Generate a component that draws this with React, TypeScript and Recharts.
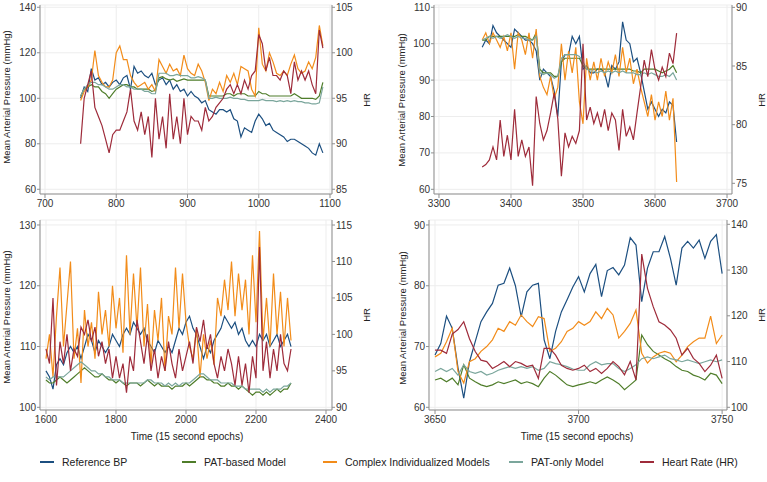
import { LineChart, Line, XAxis, YAxis, CartesianGrid } from 'recharts'

// series colours (Stata-ish palette)
const C_REF = '#1c4f80'
const C_PATB = '#4f7d2a'
const C_CPLX = '#f28c1a'
const C_PATO = '#7ba69c'
const C_HR = '#9e2b3a'
const FONT = '"Liberation Sans", Arial, sans-serif'

// ---- panel 1 (top left) ----
const p1Time = [750, 755, 760, 765, 770, 775, 780, 785, 790, 795, 800, 805, 810, 815, 820, 825, 830, 835, 840, 845, 850, 855, 860, 865, 870, 875, 880, 885, 890, 895, 900, 905, 910, 915, 920, 925, 930, 935, 940, 945, 950, 955, 960, 965, 970, 975, 980, 985, 990, 995, 1000, 1005, 1010, 1015, 1020, 1025, 1030, 1035, 1040, 1045, 1050, 1055, 1060, 1065, 1070, 1075, 1080, 1085, 1090]
const p1Ref = [100, 105, 103, 113, 108, 109, 106, 107, 105, 107, 108, 106, 109, 110, 104, 114, 111, 112, 110, 109, 111, 106, 108, 109, 106, 108, 104, 106, 103, 104, 101, 103, 101, 100, 98, 99, 95, 94, 93, 95, 95, 94, 95, 91, 90, 83, 87, 86, 85, 90, 93, 91, 88, 89, 86, 85, 84, 83, 81, 82, 82, 81, 80, 79, 78, 76, 75, 80, 76]
const p1PatBased = [101, 104, 105, 106, 105, 105, 103, 102, 100, 102, 104, 105, 106, 106, 105, 105, 104, 104, 104, 104, 103, 103.5, 109, 109.5, 108.5, 108, 108.5, 107.5, 108, 108.5, 108, 108, 108, 108, 108, 108, 101, 101, 101, 101, 101, 102, 102, 101, 102, 102, 102, 101, 101, 101, 103, 102, 102, 101, 101, 101, 101, 101, 101, 101, 102, 101, 100, 100, 100, 100, 99.5, 101, 107]
const p1Complex = [99, 103, 105, 108, 121, 110, 107, 105, 105, 108, 120, 123, 117, 117, 110, 107, 105, 106, 107, 104, 106, 103, 117, 114, 111, 115, 112, 113, 110, 119, 113, 111, 110, 115, 112, 107, 99, 104, 102, 107, 103, 110, 107, 111, 106, 114, 113, 112, 104, 101, 131, 115, 112, 120, 116, 111, 110, 112, 110, 115, 119, 113, 111, 112, 116, 113, 118, 132, 123]
const p1PatOnly = [101, 104, 106, 107, 107, 106, 106, 105, 104, 104, 105, 106, 106, 105, 105, 104, 104, 104, 103, 103, 102, 102, 111, 111, 111, 110, 110, 110.5, 110, 110, 110, 109, 109, 109.5, 109, 108, 100, 100, 100.5, 100, 100, 100, 100.5, 100, 100, 99.5, 99.5, 99, 99, 99, 99, 99.5, 99, 99, 99, 98.5, 99, 98.5, 99, 98.5, 99, 98.5, 98.5, 98, 98, 97.5, 97.5, 98, 105]
const p1Hr = [90, 95, 96.5, 98, 94, 93, 92, 90.5, 89, 91, 91.5, 91.5, 92.5, 93.5, 96, 92.5, 91.5, 93.5, 91, 93, 88.5, 95, 90.5, 93, 89.5, 95.5, 90.5, 93, 90, 95, 91, 93, 92.5, 92.5, 91.5, 94, 92.5, 93, 94, 94.5, 95, 96, 96.5, 95.5, 96.5, 95.5, 97, 96, 97.5, 98, 102, 101, 98, 99.5, 97.5, 97.5, 97, 98, 97.5, 95.5, 99, 97, 98, 97, 98, 96.5, 95.5, 102.5, 100.5]

// ---- panel 2 (top right) ----
const p2Time = [3360, 3365, 3370, 3375, 3380, 3385, 3390, 3395, 3400, 3405, 3410, 3415, 3420, 3425, 3430, 3435, 3440, 3445, 3450, 3455, 3460, 3465, 3470, 3475, 3480, 3485, 3490, 3495, 3500, 3505, 3510, 3515, 3520, 3525, 3530, 3535, 3540, 3545, 3550, 3555, 3560, 3565, 3570, 3575, 3580, 3585, 3590, 3595, 3600, 3605, 3610, 3615, 3620, 3625, 3630]
const p2Ref = [99, 101, 100, 105, 103, 102, 101, 100, 99, 104, 103, 102, 101, 101, 100, 98, 90, 93, 92, 91, 87, 80, 95, 97, 97, 102, 100, 102, 93, 94, 92, 92, 93, 93, 92, 88, 94, 93, 95, 106, 101, 100, 95, 96, 92, 87, 82, 84, 82, 80, 82, 81, 84, 83, 73]
const p2PatBased = [101, 101, 102, 102, 102, 102, 102, 102, 102, 102, 102.5, 102, 102, 101.5, 101, 103, 93, 92, 92, 92, 91, 91, 95, 96, 96, 96, 96, 96, 94, 93, 93, 93, 93, 93, 93, 93, 93, 93, 93, 93, 93, 93, 92.5, 92.5, 92, 93, 93, 93, 93, 92.5, 92, 92.5, 93, 94, 92]
const p2Complex = [101, 103, 100, 103, 101, 99, 102, 98, 103, 93, 103, 101, 97, 103, 96, 104, 91, 88, 86, 91, 85, 88, 100, 90, 98, 92, 99, 84, 78, 96, 90, 95, 90, 96, 91, 95, 92, 97, 91, 99, 92, 96, 89, 93, 88, 84, 80, 86, 79, 84, 80, 87, 79, 85, 62]
const p2PatOnly = [101, 101.5, 102, 101.5, 102, 101.5, 102, 102.5, 102, 101.5, 102, 101.5, 101.5, 101, 101, 102, 92, 91.5, 92, 91.5, 90.5, 91, 96, 97, 97, 97, 97, 96.5, 95, 93, 92.5, 92.5, 92, 92.5, 92, 92.5, 92, 92.5, 92, 92.5, 92, 92, 92, 91.5, 91.5, 92, 91.5, 92, 91.5, 91, 91, 91.5, 91, 92, 90]
const p2Hr = [76.4, 76.6, 77, 78.1, 77, 80.4, 77.3, 79.1, 77, 81.3, 77.3, 78.7, 77.3, 78.1, 74.8, 82.4, 80.1, 78.7, 79.5, 81, 82.7, 80.5, 75.6, 79.3, 78.1, 79, 78.4, 79.5, 86.9, 80.4, 81.5, 80.1, 81, 79.8, 81.3, 79.5, 81, 80.4, 77.8, 81.3, 79, 79.8, 78.7, 81, 83.2, 85.5, 84.1, 86.4, 84.7, 83.8, 84.9, 84.1, 86.1, 85.2, 87.8]

// ---- panel 3 (bottom left) ----
const p3Time = [1600, 1610, 1620, 1630, 1640, 1650, 1660, 1670, 1680, 1690, 1700, 1710, 1720, 1730, 1740, 1750, 1760, 1770, 1780, 1790, 1800, 1810, 1820, 1830, 1840, 1850, 1860, 1870, 1880, 1890, 1900, 1910, 1920, 1930, 1940, 1950, 1960, 1970, 1980, 1990, 2000, 2010, 2020, 2030, 2040, 2050, 2060, 2070, 2080, 2090, 2100, 2110, 2120, 2130, 2140, 2150, 2160, 2170, 2180, 2190, 2200, 2210, 2220, 2230, 2240, 2250, 2260, 2270, 2280, 2290, 2300]
const p3Ref = [106, 105, 103, 107, 108, 107, 109, 110, 109, 110, 108, 110, 112, 111, 109, 111, 110, 109, 110, 112, 111, 110, 112, 113, 112, 114, 113, 112, 113, 111, 110, 109, 111, 110, 109, 110, 109, 111, 113, 112, 114, 115, 113, 112, 110, 108, 110, 109, 111, 112, 113, 115, 114, 113, 114, 112, 113, 111, 110, 111, 110, 112, 111, 112, 110, 111, 112, 110, 111, 112, 110]
const p3PatBased = [104.5, 104, 104, 104.5, 105, 104.5, 104, 104.5, 105, 105.5, 106, 106.5, 106, 105.5, 105, 105, 105.5, 105, 104.5, 104.5, 104, 104.5, 104, 103.5, 104, 104, 104, 103.5, 104, 104.5, 104, 103.5, 104, 103.5, 103.5, 103.5, 103, 103.5, 103.5, 103.5, 104, 103.5, 104, 104.5, 105, 105, 104.5, 104.5, 104, 104, 103.5, 103.5, 104, 103.5, 103.5, 103, 103.5, 103, 102.5, 102, 102.5, 102.5, 102, 102.5, 102, 102.5, 103, 102.5, 103, 103, 104]
const p3Complex = [108, 112, 105, 115, 123, 110, 117, 124, 108, 113, 104, 116, 110, 114, 108, 119, 112, 116, 110, 120, 113, 118, 109, 125, 112, 122, 113, 123, 110, 117, 107, 116, 111, 118, 106, 115, 112, 123, 113, 122, 114, 110, 108, 113, 105, 112, 108, 111, 107, 118, 115, 121, 116, 124, 115, 122, 116, 121, 112, 125, 114, 129, 111, 118, 110, 122, 112, 119, 110, 118, 111]
const p3PatOnly = [105, 104.5, 105, 105, 105, 105, 105.5, 106, 106.5, 107, 107.5, 107, 106.5, 106, 106, 105.5, 105.5, 105, 105, 104.5, 104.5, 104.5, 104, 104, 104, 104, 104, 104, 104, 104.5, 104.5, 104, 104, 104, 103.5, 104, 103.5, 104, 103.5, 104, 104, 104, 104.5, 105, 105.5, 105.5, 105, 104.5, 104.5, 104.5, 104, 104, 104, 104, 103.5, 103.5, 103.5, 103, 103, 103, 103, 103, 102.5, 103, 102.5, 103, 103, 103, 103.5, 103.5, 104]
const p3Hr = [98, 96, 105, 93, 99, 96, 100, 95, 98, 97, 101, 100, 102, 99, 101, 97, 99, 96, 98, 94, 97, 94, 96, 92, 97, 95, 102, 99, 96, 100, 95, 98, 94, 97, 95, 99, 96, 94, 98, 95, 97, 99, 96, 101, 99, 102, 98, 100, 96, 94, 97, 95, 98, 96, 93, 97, 93, 96, 92, 97, 94, 112, 95, 99, 94, 98, 95, 100, 96, 95, 98]

// ---- panel 4 (bottom right) ----
const p4Time = [3650, 3652, 3654, 3656, 3658, 3660, 3662, 3664, 3666, 3668, 3670, 3672, 3674, 3676, 3678, 3680, 3682, 3684, 3686, 3688, 3690, 3692, 3694, 3696, 3698, 3700, 3702, 3704, 3706, 3708, 3710, 3712, 3714, 3716, 3718, 3720, 3722, 3724, 3726, 3728, 3730, 3732, 3734, 3736, 3738, 3740, 3742, 3744, 3746, 3748, 3750]
const p4Ref = [68.6, 70.5, 75, 73, 66.5, 61.5, 67.5, 70.8, 74.1, 75.7, 77.1, 80.1, 80.4, 82.9, 80, 74.9, 79, 80.1, 80.4, 71.1, 68, 72.5, 75.7, 77.7, 79.8, 81.5, 79, 82, 83.5, 78.2, 82.5, 83, 81.8, 83.4, 87.9, 86.7, 77.4, 82.9, 85.6, 85.6, 88.1, 84.5, 80.1, 86.2, 87.3, 86.2, 87.5, 84.5, 87.3, 88.4, 82]
const p4PatBased = [64.5, 64.8, 64.2, 64.8, 63.7, 67, 64.8, 64.2, 63.7, 63.4, 63.7, 64.2, 63.9, 64.2, 64.5, 63.9, 64.2, 63.9, 63.4, 64.8, 65.9, 65.3, 64.5, 63.7, 63.4, 63.7, 63.9, 64.2, 63.9, 64.5, 65, 64.5, 63.9, 62.9, 63.7, 64.5, 71.9, 70.3, 69.2, 68.6, 68, 67.5, 66.7, 66.1, 65.9, 65.3, 65, 64.5, 65.6, 65.3, 63.9]
const p4Complex = [68.3, 68.9, 70.8, 73, 65.9, 64, 67.5, 68, 69.2, 70, 71.1, 73, 72.5, 74.1, 73.5, 75.2, 74.1, 73.3, 74.9, 74.6, 69.2, 69.7, 70.8, 72.5, 73, 74.1, 73.5, 74.1, 75.7, 74.6, 76.3, 75.2, 71.4, 72.5, 73.8, 76, 68.9, 67.3, 68.3, 68.9, 69.2, 68.9, 67.5, 68.6, 70, 70.8, 71.4, 71.4, 75, 70.5, 71.9]
const p4PatOnly = [65.9, 66.4, 65.9, 66.4, 65.3, 67, 65.9, 65.6, 65.9, 65.3, 65.6, 66.1, 66.4, 66.7, 66.4, 66.7, 66.4, 66.7, 66.1, 66.4, 67.5, 67.2, 67, 66.7, 66.3, 66.1, 66.1, 67, 67.5, 67, 67.2, 67.2, 66.4, 65.9, 66.4, 67, 68, 68.3, 68, 68.3, 68.6, 68, 67.8, 67.5, 67.8, 67.5, 67.2, 67.5, 67.8, 67.5, 67.8]
const p4Hr = [112.5, 112.5, 111.8, 116, 117, 118.7, 115, 112.2, 110.3, 110, 108.5, 109.2, 110, 108.9, 110, 109.6, 108.9, 109.2, 106.3, 112.9, 112.9, 111.4, 109.2, 108.5, 108.1, 108.5, 109.2, 107.8, 108.5, 107.4, 108.5, 110, 108.9, 107.1, 110, 106, 133.5, 126, 122, 118.7, 118, 116.9, 115.1, 111.4, 112.9, 110.7, 109.6, 107.8, 109.2, 111.4, 106.3]

const legendItems = [
  { label: 'Reference BP', color: C_REF, x: 40 },
  { label: 'PAT-based Model', color: C_PATB, x: 182 },
  { label: 'Complex Individualized Models', color: C_CPLX, x: 323 },
  { label: 'PAT-only Model', color: C_PATO, x: 509 },
  { label: 'Heart Rate (HR)', color: C_HR, x: 640 },
]

type PanelCfg = {
  left: number
  top: number
  width: number
  leftW: number
  rightW: number
  xH: number
  time: number[]
  ref: number[]
  patB: number[]
  cplx: number[]
  patO: number[]
  hr: number[]
  xDomain: [number, number]
  xTicks: number[]
  mapDomain: [number, number]
  mapTicks: number[]
  hrDomain: [number, number]
  hrTicks: number[]
}

const panels: PanelCfg[] = [
  {
    left: 0, top: 0, width: 384, leftW: 40, rightW: 52, xH: 21,
    time: p1Time, ref: p1Ref, patB: p1PatBased, cplx: p1Complex, patO: p1PatOnly, hr: p1Hr,
    xDomain: [693, 1102.8], xTicks: [700, 800, 900, 1000, 1100],
    mapDomain: [57.93, 141], mapTicks: [60, 80, 100, 120, 140],
    hrDomain: [84.48, 105.25], hrTicks: [85, 90, 95, 100, 105],
  },
  {
    left: 384, top: 0, width: 383, leftW: 50, rightW: 35, xH: 21,
    time: p2Time, ref: p2Ref, patB: p2PatBased, cplx: p2Complex, patO: p2PatOnly, hr: p2Hr,
    xDomain: [3293.1, 3706.9], xTicks: [3300, 3400, 3500, 3600, 3700],
    mapDomain: [58.71, 110.63], mapTicks: [60, 70, 80, 90, 100, 110],
    hrDomain: [74.09, 90.2], hrTicks: [75, 80, 85, 90],
  },
  {
    left: 0, top: 215, width: 384, leftW: 40, rightW: 52, xH: 20,
    time: p3Time, ref: p3Ref, patB: p3PatBased, cplx: p3Complex, patO: p3PatOnly, hr: p3Hr,
    xDomain: [1582.9, 2417.1], xTicks: [1600, 1800, 2000, 2200, 2400],
    mapDomain: [99.56, 130.82], mapTicks: [100, 110, 120, 130],
    hrDomain: [89.63, 115.69], hrTicks: [90, 95, 100, 105, 110, 115],
  },
  {
    left: 384, top: 215, width: 383, leftW: 45, rightW: 40, xH: 20,
    time: p4Time, ref: p4Ref, patB: p4PatBased, cplx: p4Complex, patO: p4PatOnly, hr: p4Hr,
    xDomain: [3647.9, 3751.7], xTicks: [3650, 3700, 3750],
    mapDomain: [59.56, 90.82], mapTicks: [60, 70, 80, 90],
    hrDomain: [99.41, 140.94], hrTicks: [100, 110, 120, 130, 140],
  },
]

const tickStyle = { fontSize: 10, fill: '#333', fontFamily: FONT }
const axisStroke = { stroke: '#8f8f8f' }

function Panel({ cfg }: { cfg: PanelCfg }) {
  const rows = cfg.time.map((t, i) => ({
    t,
    ref: cfg.ref[i],
    patB: cfg.patB[i],
    cplx: cfg.cplx[i],
    patO: cfg.patO[i],
    hr: cfg.hr[i],
  }))
  return (
    <div style={{ position: 'absolute', left: cfg.left, top: cfg.top }}>
      <LineChart width={cfg.width} height={215} data={rows} margin={{ top: 5, right: 0, bottom: 0, left: 0 }}>
        <CartesianGrid yAxisId="map" stroke="#ededed" />
        <XAxis
          dataKey="t" type="number" domain={cfg.xDomain} ticks={cfg.xTicks} allowDataOverflow interval={0}
          height={cfg.xH} tick={tickStyle} tickSize={4} tickMargin={2} axisLine={axisStroke} tickLine={axisStroke}
        />
        <YAxis
          yAxisId="map" domain={cfg.mapDomain} ticks={cfg.mapTicks} allowDataOverflow interval={0}
          width={cfg.leftW} tick={tickStyle} tickSize={3} tickMargin={1} axisLine={axisStroke} tickLine={axisStroke}
        />
        <YAxis
          yAxisId="hr" orientation="right" domain={cfg.hrDomain} ticks={cfg.hrTicks} allowDataOverflow interval={0}
          width={cfg.rightW} tick={tickStyle} tickSize={3} tickMargin={1} axisLine={axisStroke} tickLine={axisStroke}
        />
        <Line yAxisId="map" dataKey="ref" stroke={C_REF} strokeWidth={1.2} dot={false} isAnimationActive={false} />
        <Line yAxisId="map" dataKey="patB" stroke={C_PATB} strokeWidth={1.2} dot={false} isAnimationActive={false} />
        <Line yAxisId="map" dataKey="cplx" stroke={C_CPLX} strokeWidth={1.2} dot={false} isAnimationActive={false} />
        <Line yAxisId="map" dataKey="patO" stroke={C_PATO} strokeWidth={1.2} dot={false} isAnimationActive={false} />
        <Line yAxisId="hr" dataKey="hr" stroke={C_HR} strokeWidth={1.2} dot={false} isAnimationActive={false} />
      </LineChart>
    </div>
  )
}

export default function App() {
  const mapTitle = 'Mean Arterial Pressure (mmHg)'
  return (
    <div style={{ position: 'absolute', left: 0, top: 0, width: 767, height: 482, background: '#fff', fontFamily: FONT }}>
      {panels.map((p, i) => (
        <Panel key={i} cfg={p} />
      ))}
      <svg width={767} height={482} style={{ position: 'absolute', left: 0, top: 0, pointerEvents: 'none' }}>
        <g fontFamily={FONT} fill="#222" fontSize={9.5} textAnchor="middle" dominantBaseline="central">
          <text transform="translate(6,97) rotate(-90)">{mapTitle}</text>
          <text transform="translate(401,100) rotate(-90)">{mapTitle}</text>
          <text transform="translate(6,317) rotate(-90)">{mapTitle}</text>
          <text transform="translate(402,318) rotate(-90)">{mapTitle}</text>
          <text transform="translate(366,100) rotate(-90)">HR</text>
          <text transform="translate(761,100) rotate(-90)">HR</text>
          <text transform="translate(366,315) rotate(-90)">HR</text>
          <text transform="translate(761,315) rotate(-90)">HR</text>
        </g>
        <g fontFamily={FONT} fill="#222" fontSize={10} textAnchor="middle">
          <text x={187} y={440}>Time (15 second epochs)</text>
          <text x={577} y={440}>Time (15 second epochs)</text>
        </g>
        <g fontFamily={FONT} fontSize={10.5} fill="#222">
          {legendItems.map((it) => (
            <g key={it.label}>
              <line x1={it.x} x2={it.x + 14} y1={462} y2={462} stroke={it.color} strokeWidth={2} />
              <text x={it.x + 22} y={466}>{it.label}</text>
            </g>
          ))}
        </g>
      </svg>
    </div>
  )
}
